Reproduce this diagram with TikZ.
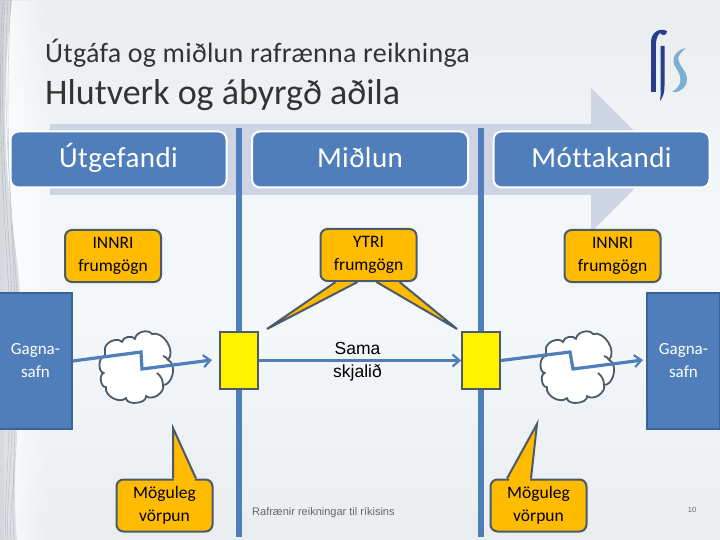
\documentclass[tikz,border=0pt]{standalone}
\usepackage{fontspec}
\setmainfont[Ligatures=CommonOff]{Carlito}
\newfontfamily\arialf{Liberation Sans}
\newfontfamily\titlea[Ligatures=CommonOff,LetterSpace=1]{Carlito}
\newfontfamily\titleb[Ligatures=CommonOff]{Carlito}
\newfontfamily\headf[Ligatures=CommonOff,LetterSpace=1.5]{Carlito}
\usetikzlibrary{arrows.meta,calc,fadings}
\definecolor{bluefill}{HTML}{4F7EBB}
\definecolor{blueedge}{HTML}{3B6496}
\definecolor{orangefill}{HTML}{FFBB00}
\definecolor{darkedge}{HTML}{4A5A6A}
\definecolor{arrowbg}{HTML}{CDD5E5}
\definecolor{titleink}{HTML}{333333}
\definecolor{streak}{HTML}{8E97A2}
\definecolor{bgtop}{HTML}{E9EDF0}
\definecolor{bgmid}{HTML}{F4F7F9}
\definecolor{bgbot}{HTML}{E9EDF0}
\definecolor{logodark}{HTML}{2A3C8C}
\definecolor{logolight}{HTML}{7FAFD0}
\definecolor{footink}{HTML}{666666}
\tikzset{
 header/.style={draw=white,line width=2pt,fill=bluefill,rounded corners=8pt,text=white,font=\headf\fontsize{29}{30}\selectfont,minimum width=216pt,minimum height=56pt,inner sep=0pt,text height=23pt,text depth=6pt},
 orange/.style={draw=darkedge,line width=2pt,fill=orangefill,rounded corners=7pt,minimum width=96pt,minimum height=52pt,inner sep=0pt,align=center,font=\fontsize{17.5}{23}\selectfont,text=black},
 pointer/.style={draw=darkedge,line width=2pt,fill=orangefill,line join=miter},
 store/.style={draw=blueedge,line width=1.5pt,fill=bluefill,minimum width=73pt,minimum height=136pt,inner sep=0pt,align=center,text=white,font=\fontsize{17}{23}\selectfont},
 doc/.style={draw=darkedge,line width=1.6pt,fill=yellow,minimum width=38pt,minimum height=57pt,inner sep=0pt},
 flow/.style={draw=bluefill,line width=3.2pt,line join=miter,-{Straight Barb[length=7pt,width=12pt,line width=2.2pt]}},
 lane/.style={draw=bluefill,line width=5.5pt},
 cloudline/.style={draw=darkedge,line width=1.8pt,line join=round},
 pics/cloudshape/.style={code={
  \path[cloudline,fill=white] (-30,-18) to[bend left=75] (-13,-26) to[bend left=70] (0,-29) to[bend left=70] (17,-34)
   to[bend left=75] (33,-8) to[bend left=80] (28,17) to[bend left=75] (11,28) to[bend left=95] (-9,30)
   to[bend left=75] (-29,19) to[bend left=90] (-31,5) to[bend left=90] (-30,-12) -- cycle;
  \draw[cloudline] (22,5) to[bend left=25] (28,17);
  \draw[cloudline] (28,-12) to[bend left=25] (33,-8);
 }}
}
\begin{document}
\begin{tikzpicture}[x=1pt,y=-1pt]
\useasboundingbox (0,0) rectangle (720,540);
% background
\shade[top color=bgtop,bottom color=bgmid] (0,0) rectangle (720,200);
\fill[bgmid] (0,199.5) rectangle (720,330);
\shade[top color=bgmid,bottom color=bgbot] (0,329.5) rectangle (720,540);
\fill[white,path fading=east,opacity=.75] (4,0) rectangle (50,540);
% streaks at the left edge
\fill[streak,opacity=.3] (0,0) -- (12,0) .. controls (5,60) and (3,120) .. (8,180) .. controls (12,230) and (18,260) .. (20,295) -- (0,295) -- cycle;
\fill[streak,opacity=.25] (0,425) -- (16,425) .. controls (15,470) and (14,510) .. (17,540) -- (0,540) -- cycle;
\foreach \a/\b in {11/15,8/17,5/12,3/9}{
  \draw[streak,line width=0.6pt,opacity=.4] (\a,0) .. controls (\a-7,110) and (\b-4,220) .. (\b,295);
  \draw[streak,line width=0.6pt,opacity=.35] (\b,425) .. controls (\b-1,470) and (\a+1,510) .. (\a+3,540);
}
% big arrow
\fill[arrowbg] (50,124) -- (591,124) -- (591,88) -- (663,160) -- (591,232) -- (591,195) -- (50,195) -- cycle;
% lanes
\draw[lane] (239,128) -- (239,537);
\draw[lane] (481,128) -- (481,537);
% titles
\node[anchor=base west,inner sep=0pt,text=titleink,font=\titlea\fontsize{28}{30}\selectfont] (title) at (45,63) {Útgáfa og miðlun rafrænna reikninga};
\node[anchor=base west,inner sep=0pt,text=titleink,font=\titleb\fontsize{36}{38}\selectfont] (subtitle) at (45,105) {Hlutverk og ábyrgð aðila};
% logo
\draw[logodark,line width=5pt] (653.5,92) -- (653.5,42);
\fill[logodark] (651,42) .. controls (651,33) and (659,27) .. (667,31) .. controls (667,36) and (662,36) .. (660,33) .. controls (658,35) and (656,38) .. (656,44) -- cycle;
\fill[logodark] (660.5,46) -- (664.5,46) -- (664.5,86) .. controls (664.5,93) and (663,97) .. (660,101) .. controls (661,95) and (660.5,90) .. (660.5,84) -- cycle;
\fill[logolight] (686,48) .. controls (675,50) and (670,60) .. (676,68) .. controls (681,75) and (684,85) .. (672,92) .. controls (682,93) and (690,84) .. (686,74) .. controls (682,66) and (675,60) .. (680,54) .. controls (682,51) and (684,50) .. (686,48) -- cycle;
% headers
\node[header] (h1) at (118.5,159.5) {Útgefandi};
\node[header] (h2) at (360,159.5) {Miðlun};
\node[header] (h3) at (601.5,159.5) {Móttakandi};
% callout pointers
\coordinate (tipa) at (267,329);
\coordinate (tipb) at (457,329);
\coordinate (tipc) at (173,428);
\coordinate (tipd) at (537,424);
\node[orange] (o2) at (368.5,255) {YTRI\\frumgögn};
\draw[pointer] ($(o2.south)+(-33,0)$) -- (tipa) -- ($(o2.south)+(-11,0)$);
\draw[pointer] ($(o2.south)+(8,0)$) -- (tipb) -- ($(o2.south)+(31,0)$);
\node[orange] (o1) at (113,256) {INNRI\\frumgögn};
\node[orange] (o3) at (612.5,256) {INNRI\\frumgögn};
\node[orange] (m1) at (164.5,505.5) {Möguleg\\vörpun};
\node[orange] (m2) at (538.5,505.5) {Möguleg\\vörpun};
\path[pointer] ($(m1.north)+(8.5,0)$) -- (tipc) -- ($(m1.north)+(31.5,0)$);
\path[pointer] ($(m2.north)+(-31.5,0)$) -- (tipd) -- ($(m2.north)+(-7.5,0)$);
\fill[orangefill] ($(m1.north)+(9.6,2)$) rectangle ($(m1.north)+(30,-1)$);
\fill[orangefill] ($(m2.north)+(-30,2)$) rectangle ($(m2.north)+(-8.6,-1)$);
% stores, documents
\node[store] (s1) at (35.5,361) {Gagna-\\safn};
\node[store] (s2) at (683.5,361) {Gagna-\\safn};
\node[doc] (d1) at (239,360.5) {};
\node[doc] (d2) at (481,360.5) {};
% clouds
\pic at (135,368) {cloudshape};
\pic at (576,368) {cloudshape};
% flows
\coordinate (a1) at (141,352); \coordinate (a2) at (142,369); \coordinate (a3) at (212,360);
\coordinate (b1) at (570,352); \coordinate (b2) at (573,369); \coordinate (b3) at (643,360);
\draw[flow] (s1.east) -- (a1) -- (a2) -- (a3);
\draw[flow] (d2.east) -- (b1) -- (b2) -- (b3);
\draw[flow] (d1.east) -- (d2.west);
% texts
\node[align=center,inner sep=0pt,font=\arialf\fontsize{17.5}{23}\selectfont,text=black] (same) at (357.5,361.5) {Sama\\skjalið};
\node[anchor=base west,inner sep=0pt,font=\arialf\fontsize{11}{12}\selectfont,text=footink] (foot) at (252,515) {Rafrænir reikningar til ríkisins};
\node[anchor=base,inner sep=0pt,font=\arialf\fontsize{7.5}{9}\selectfont,text=footink] (page) at (692,512) {10};
\end{tikzpicture}
\end{document}
